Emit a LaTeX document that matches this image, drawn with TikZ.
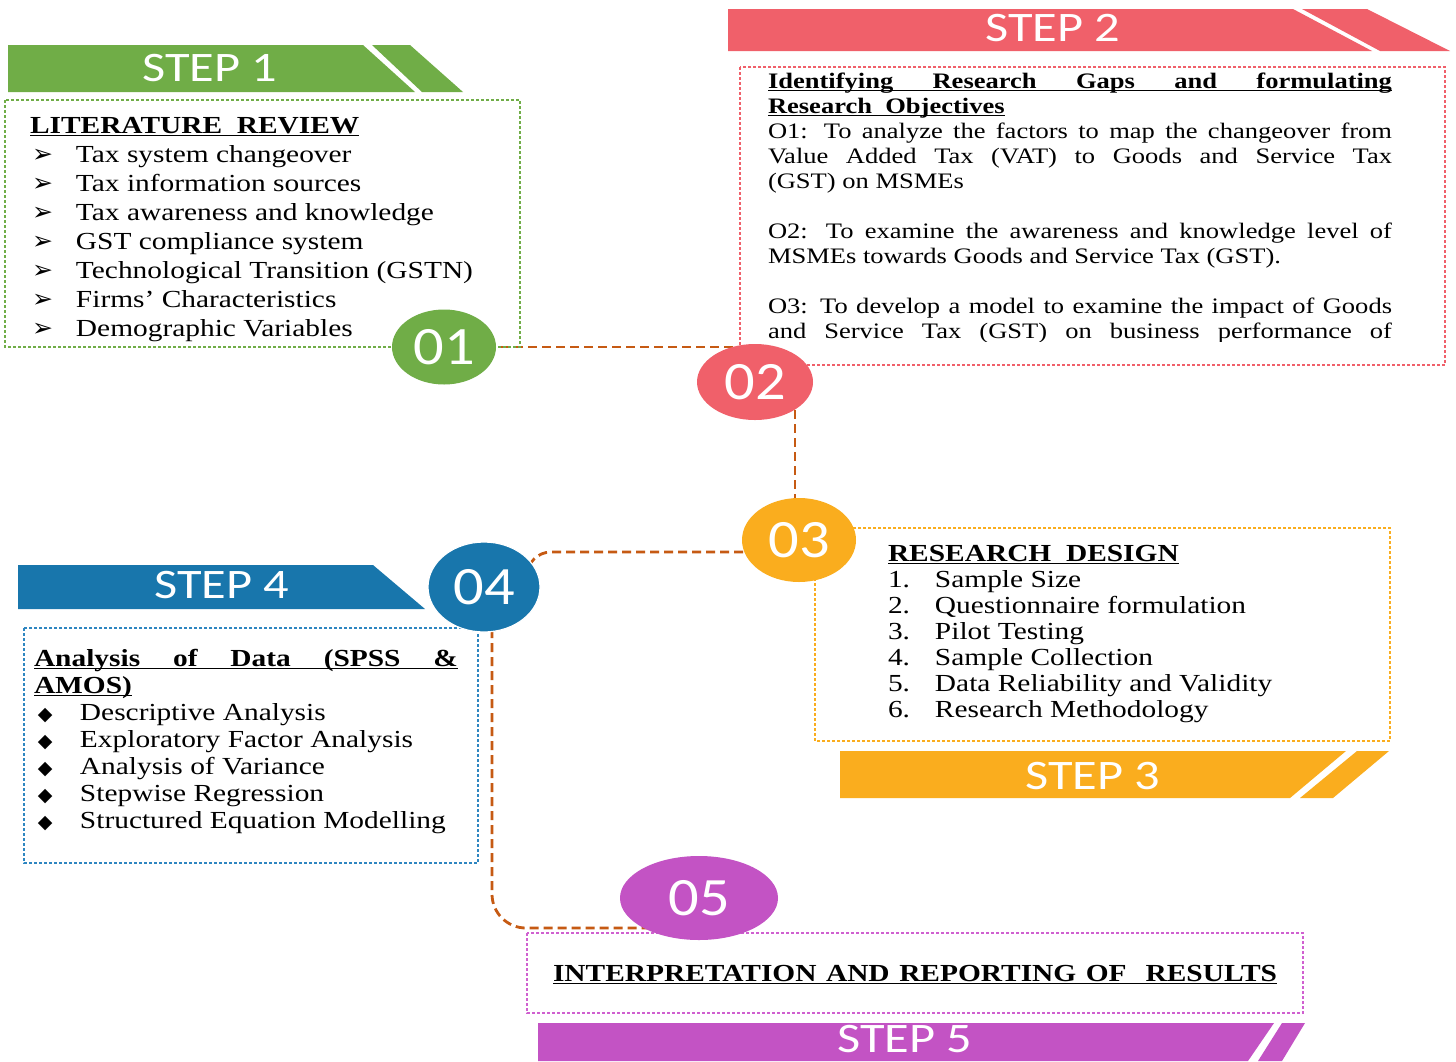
\documentclass[tikz,border=0pt]{standalone}
\usepackage{fontspec}
\setmainfont[FakeStretch=1.2]{Liberation Serif}
\newfontfamily\stepfont[FakeStretch=1.2]{Carlito}
\newfontfamily\numfont[FakeStretch=1.12]{Carlito}
\newfontfamily\symfont{DejaVu Sans}
\usetikzlibrary{shapes.geometric}
\definecolor{cgreen}{HTML}{70AD47}
\definecolor{cred}{HTML}{F0606A}
\definecolor{corange}{HTML}{FAAD1E}
\definecolor{cblue}{HTML}{1876AC}
\definecolor{cpurple}{HTML}{C353C4}
\definecolor{cconn}{HTML}{C65A13}
\definecolor{cbframe}{HTML}{2E86C1}
\definecolor{cpframe}{HTML}{D060D0}
\pgfdeclarelayer{bg}
\pgfsetlayers{bg,main}
\newcommand\ulx[1]{\leavevmode\setbox0\hbox{#1}\rlap{\rule[-3pt]{\wd0}{1.4pt}}\box0}
\newcommand\arrb{\hspace*{2pt}\makebox[44pt][l]{\symfont\fontsize{25}{25}\selectfont ➢}}
\newcommand\dia{\hspace*{4pt}\makebox[42pt][l]{\symfont\fontsize{19}{19}\selectfont ◆}}
\newcommand\numi[1]{\makebox[47pt][l]{#1.}}
\begin{document}
\begin{tikzpicture}[x=1pt,y=-1pt,
  txt/.style={inner sep=0pt,outer sep=0pt,anchor=base west},
  steplbl/.style={text=white,font=\stepfont\fontsize{42}{42}\selectfont,inner sep=0pt},
  badge/.style={ellipse,inner sep=0pt,text=white,font=\numfont\fontsize{54}{54}\selectfont},
  conn/.style={draw=cconn,line width=2.8pt,dash pattern=on 9pt off 5pt},
  frm/.style={line width=1.3pt,dash pattern=on 3pt off 2pt}]
\useasboundingbox (0,0) rectangle (1456,1061);

% ---------- banners ----------
\fill[cgreen] (8,45) -- (363,45) -- (415,92) -- (8,92) -- cycle;
\fill[cgreen] (372,45) -- (410,45) -- (463,92) -- (422,92) -- cycle;
\node[steplbl] (s1) at (210,68) {STEP 1};

\fill[cred] (728,9) -- (1293,9) -- (1372,51) -- (728,51) -- cycle;
\fill[cred] (1302,9) -- (1367,9) -- (1450,51) -- (1380,51) -- cycle;
\node[steplbl] (s2) at (1053,28) {STEP 2};

\fill[corange] (840,751) -- (1346,751) -- (1290,798) -- (840,798) -- cycle;
\fill[corange] (1357,751) -- (1389,751) -- (1333,798) -- (1300,798) -- cycle;
\node[steplbl] (s3) at (1093,776) {STEP 3};

\fill[cblue] (18,565) -- (373,565) -- (425,609) -- (18,609) -- cycle;
\node[steplbl] (s4) at (222,585) {STEP 4};

\fill[cpurple] (538,1023) -- (1274,1023) -- (1248,1061) -- (538,1061) -- cycle;
\fill[cpurple] (1282,1023) -- (1305,1023) -- (1282,1061) -- (1258,1061) -- cycle;
\node[steplbl] (s5) at (905,1039) {STEP 5};

% ---------- frames ----------
\draw[frm,draw=cgreen] (5,100) rectangle (520,347);
\draw[frm,draw=cred] (740,67) rectangle (1445,365);
\draw[frm,draw=corange] (815,528) rectangle (1390,741);
\draw[frm,draw=cbframe] (24,628) rectangle (478,863);
\draw[frm,draw=cpframe] (527,933) rectangle (1303,1013);

% ---------- texts ----------
\node[txt] (t1) at (30,133) {\parbox[t]{480pt}{\fontsize{24.5}{29}\selectfont
\ulx{\bfseries LITERATURE\ \ REVIEW}\\
\arrb Tax system changeover\\
\arrb Tax information sources\\
\arrb Tax awareness and knowledge\\
\arrb GST compliance system\\
\arrb Technological Transition (GSTN)\\
\arrb Firms' Characteristics\\
\arrb Demographic Variables}};

\begin{scope}
\clip (740,60) rectangle (1445,341);
\node[txt] (t2) at (768,88) {\parbox[t]{640pt}{\fontsize{22.1}{25}\selectfont
\ulx{\makebox[624pt][s]{\bfseries Identifying Research Gaps and formulating}}\\
\ulx{\bfseries Research\ \ Objectives}\\
\makebox[624pt][s]{O1: To analyze the factors to map the changeover from}\\
\makebox[624pt][s]{Value Added Tax (VAT) to Goods and Service Tax}\\
(GST) on MSMEs\\[25pt]
\makebox[624pt][s]{O2: To examine the awareness and knowledge level of}\\
MSMEs towards Goods and Service Tax (GST).\\[25pt]
\makebox[624pt][s]{O3: To develop a model to examine the impact of Goods}\\
\makebox[624pt][s]{and Service Tax (GST) on business performance of}}};
\end{scope}

\node[txt] (t3) at (888,561) {\parbox[t]{480pt}{\fontsize{24.5}{26}\selectfont
\ulx{\bfseries RESEARCH\ \ DESIGN}\\
\numi{1}Sample Size\\
\numi{2}Questionnaire formulation\\
\numi{3}Pilot Testing\\
\numi{4}Sample Collection\\
\numi{5}Data Reliability and Validity\\
\numi{6}Research Methodology}};

\node[txt] (t4) at (34,666) {\parbox[t]{440pt}{\fontsize{24.5}{27}\selectfont
\ulx{\makebox[424pt][s]{\bfseries Analysis of Data (SPSS \&}}\\
\ulx{\bfseries AMOS)}\\
\dia Descriptive Analysis\\
\dia Exploratory Factor Analysis\\
\dia Analysis of Variance\\
\dia Stepwise Regression\\
\dia Structured Equation Modelling}};

\node[txt] (t5) at (553,981) {\fontsize{24.5}{27}\selectfont
\ulx{\makebox[724pt][s]{\bfseries INTERPRETATION AND REPORTING OF\ \ RESULTS}}};

% ---------- badges ----------
\node[badge,fill=cgreen,minimum width=104pt,minimum height=75pt] (c01) at (444,347) {01};
\node[badge,fill=cred,minimum width=116pt,minimum height=76pt] (c02) at (755,382) {02};
\node[badge,fill=corange,minimum width=114pt,minimum height=84pt] (c03) at (799,540) {03};
\node[badge,fill=cblue,draw=white,line width=1.2pt,minimum width=112pt,minimum height=90pt] (c04) at (484,587) {04};
\node[badge,fill=cpurple,minimum width=158pt,minimum height=84pt] (c05) at (699,898) {05};

% ---------- connectors ----------
\begin{pgfonlayer}{bg}
\fill[white] (0,0) rectangle (1456,1061);
\draw[conn] (c01.center) -- (c01.center -| c02.center);
\draw[conn] ([xshift=-4pt]c03.center |- c02.center) -- ([xshift=-4pt]c03.center);
\draw[conn,rounded corners=24pt] ([yshift=-12pt]c03.center) -| ([xshift=43pt]c04.center);
\draw[conn,rounded corners=34pt] ([xshift=8pt]c04.center) |- ([yshift=-30pt]c05.center);
\end{pgfonlayer}
\end{tikzpicture}
\end{document}
